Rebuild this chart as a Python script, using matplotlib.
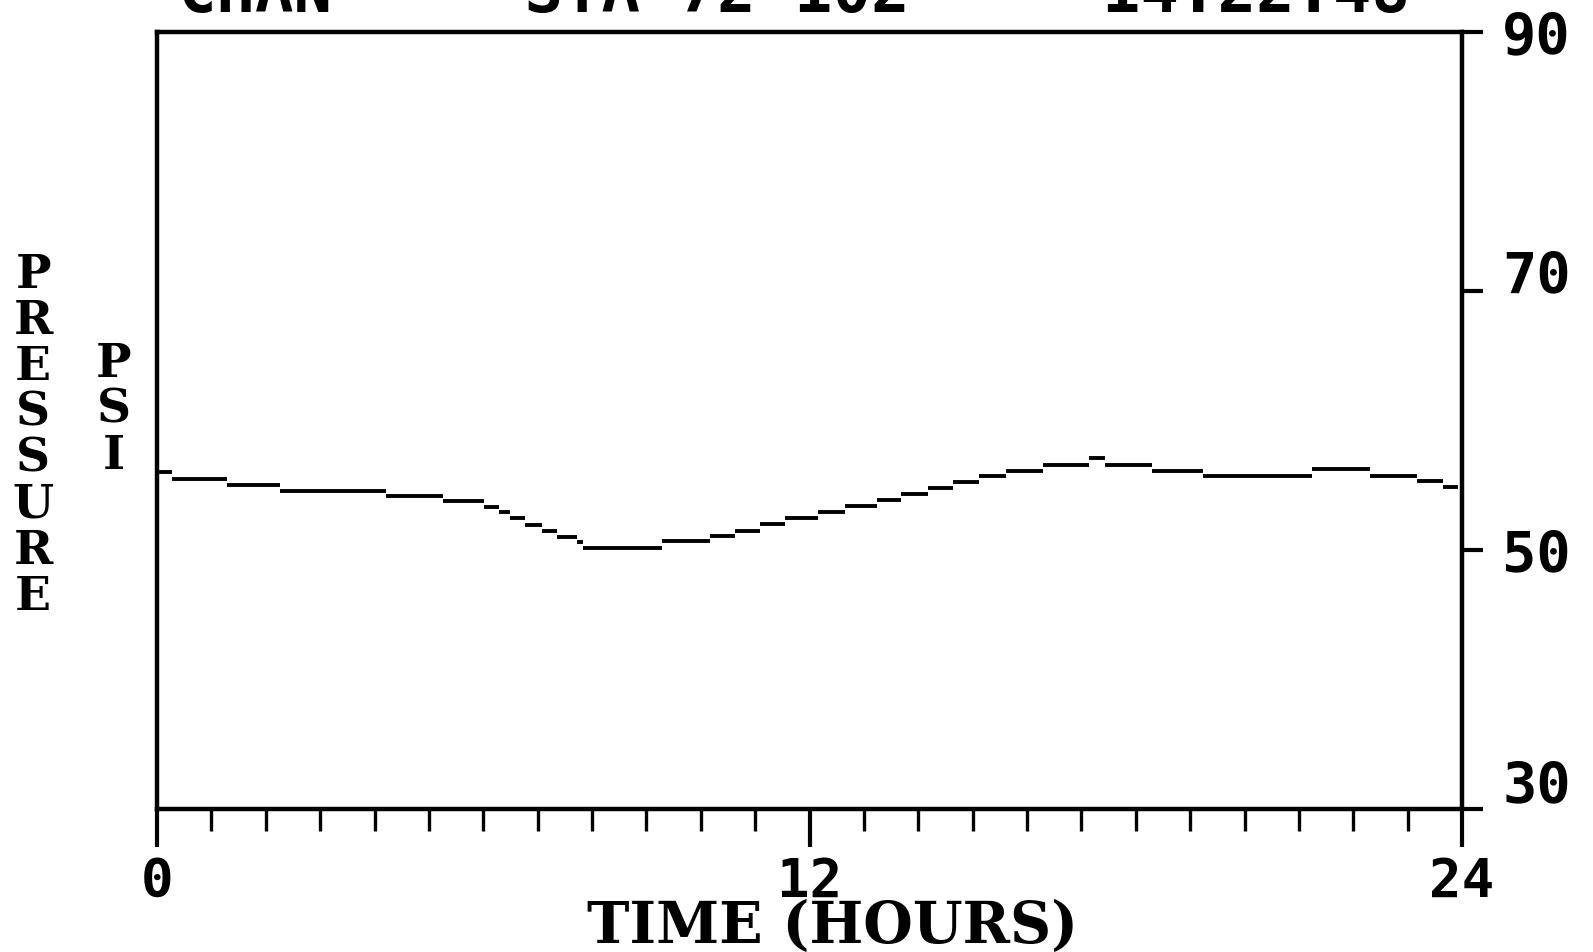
import matplotlib
matplotlib.use("Agg")
import matplotlib.pyplot as plt
import matplotlib.transforms as mtransforms
import numpy as np

# step readings: start hour of each level and pressure (psi)
step_start = [0.0, 0.28, 1.29, 2.26, 4.21, 5.26, 6.01, 6.29, 6.49, 6.77, 7.08,
              7.36, 7.72, 7.83, 9.29, 10.17, 10.63, 11.09, 11.55, 12.16, 12.65,
              13.24, 13.68, 14.18, 14.64, 15.12, 15.61, 16.29, 17.14, 17.43,
              18.30, 19.24, 21.24, 22.31, 23.17, 23.65]
step_end_last = 23.93
psi = [56.0, 55.5, 55.0, 54.55, 54.15, 53.8, 53.3, 52.9, 52.5, 51.9, 51.5,
       51.0, 50.6, 50.15, 50.7, 51.1, 51.5, 52.0, 52.5, 52.9, 53.4,
       53.85, 54.3, 54.8, 55.25, 55.7, 56.1, 56.55, 57.1, 56.6,
       56.1, 55.7, 56.25, 55.7, 55.3, 54.9]

x_major = [0, 12, 24]
x_major_labels = ["0", "12", "24"]
y_ticks = [30, 50, 70, 90]
y_labels = ["30", "50", "70", "90"]

header = "CHAN     STA 72 102     14:22:48"

num_font = "DejaVu Sans Mono"
let_font = "DejaVu Serif"

fig = plt.figure(figsize=(15.93, 9.53), dpi=100)
ax = fig.add_axes([157 / 1593, 1 - 810 / 953, 1305 / 1593, 777 / 953])

step_end = step_start[1:] + [step_end_last]
ax.hlines(psi, step_start, step_end, colors="black", linewidth=2.8)

ax.set_xlim(0, 24)
ax.set_ylim(30, 90)

for s in ax.spines.values():
    s.set_linewidth(3.2)
    s.set_color("black")

ax.set_xticks(x_major)
ax.set_xticklabels(x_major_labels)
ax.set_xticks(np.arange(1, 24), minor=True)
ax.tick_params(axis="x", which="major", direction="out", length=27, width=3.0,
               pad=6, labelsize=39)
ax.tick_params(axis="x", which="minor", direction="out", length=16, width=2.4)

ax.yaxis.tick_right()
ax.set_yticks(y_ticks)
ax.set_yticklabels(y_labels)
ax.tick_params(axis="y", direction="out", length=15, width=3.0, pad=14,
               labelsize=41, left=False, right=True)

for lab in ax.get_xticklabels() + ax.get_yticklabels():
    lab.set_fontfamily(num_font)
    lab.set_fontweight("bold")

# the old plotter drew a couple of right labels a bit high
offsets = {"70": 20, "30": 28}
for lab in ax.get_yticklabels():
    dy = offsets.get(lab.get_text(), 0)
    if dy:
        lab.set_transform(lab.get_transform() +
                          mtransforms.ScaledTranslation(0, dy / 100, fig.dpi_scale_trans))

ax.set_xlabel("TIME (HOURS)", fontsize=41, fontweight="bold", family=let_font)
ax.xaxis.set_label_coords(0.518, -0.115)

fig.text(33 / 1593, 1 - 436 / 953, "\n".join("PRESSURE"), fontsize=34,
         fontweight="bold", family=let_font, linespacing=1.0,
         ha="center", va="center")
fig.text(114 / 1593, 1 - 410 / 953, "\n".join("PSI"), fontsize=34, fontweight="bold",
         family=let_font, linespacing=1.0, ha="center", va="center")

# header line cut by the top edge of the scan
fig.text(178 / 1593, 1 - 12 / 953, header, fontsize=46, fontweight="bold",
         family=num_font, ha="left", va="baseline")

fig.savefig("out.png", dpi=100, facecolor="white")
